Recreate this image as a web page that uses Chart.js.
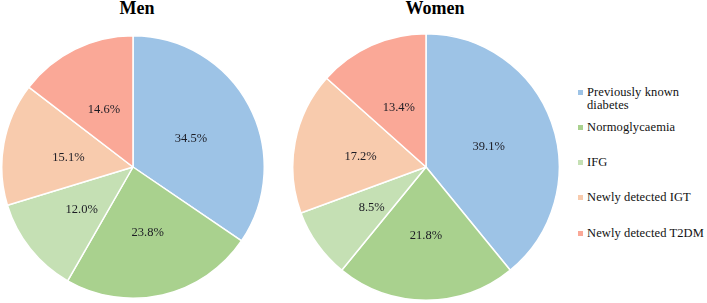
<!DOCTYPE html>
<html>
<head>
<meta charset="utf-8">
<script src="https://cdn.jsdelivr.net/npm/chart.js@4.4.1/dist/chart.umd.min.js"></script>
<style>
  html, body { margin: 0; padding: 0; background: #ffffff; }
  body { width: 707px; height: 303px; position: relative; overflow: hidden; font-family: "Liberation Serif", "Times New Roman", serif; }
  .title { position: absolute; top: -2px; font-weight: bold; font-size: 18px; color: #000; text-align: center; width: 200px; }
  .wrap { position: absolute; }
  #legend { position: absolute; left: 576px; top: 0; width: 131px; }
  .item { position: absolute; left: 0; width: 131px; font-size: 12.5px; line-height: 13px; color: #111; letter-spacing: 0.1px; }
  .swatch { position: absolute; left: 2px; top: 4px; width: 5px; height: 5px; }
  .txt { position: absolute; left: 11px; width: 120px; }
</style>
</head>
<body>
<div class="title" style="left:37px;">Men</div>
<div class="title" style="left:335px;">Women</div>
<div class="wrap" style="left:1px; top:35px; width:264px; height:264px;"><canvas id="men"></canvas></div>
<div class="wrap" style="left:292px; top:33px; width:268px; height:268px;"><canvas id="women"></canvas></div>
<div id="legend"></div>
<script>
const categories = ["Previously known diabetes", "Normoglycaemia", "IFG", "Newly detected IGT", "Newly detected T2DM"];
const menValues = [34.5, 23.8, 12.0, 15.1, 14.6];
const womenValues = [39.1, 21.8, 8.5, 17.2, 13.4];
const sliceColors = ["#9DC3E6", "#A9D18E", "#C5E0B4", "#F8CBAD", "#FAA897"];

const labelPlugin = {
  id: 'sliceLabels',
  afterDatasetsDraw(chart) {
    const ctx = chart.ctx;
    const meta = chart.getDatasetMeta(0);
    const data = chart.data.datasets[0].data;
    ctx.save();
    ctx.font = '12.5px "Liberation Serif", "Times New Roman", serif';
    ctx.fillStyle = '#1c1c24';
    ctx.textAlign = 'center';
    ctx.textBaseline = 'middle';
    meta.data.forEach((arc, i) => {
      const p = arc.getCenterPoint();
      ctx.fillText(data[i].toFixed(1) + '%', p.x, p.y + 2);
    });
    ctx.restore();
  }
};

function makePie(id, values) {
  return new Chart(document.getElementById(id), {
    type: 'pie',
    data: {
      labels: categories,
      datasets: [{
        data: values,
        backgroundColor: sliceColors,
        borderColor: '#ffffff',
        borderWidth: 1.5,
        hoverOffset: 0,
        offset: 0
      }]
    },
    options: {
      responsive: true,
      maintainAspectRatio: false,
      animation: false,
      layout: { padding: 0 },
      plugins: {
        legend: { display: false },
        tooltip: { enabled: false },
        title: { display: false }
      }
    },
    plugins: [labelPlugin]
  });
}

makePie('men', menValues);
makePie('women', womenValues);

const legend = document.getElementById('legend');
categories.forEach((c, i) => {
  const item = document.createElement('div');
  item.className = 'item';
  item.style.top = (85.5 + i * 35.3) + 'px';
  const sw = document.createElement('div');
  sw.className = 'swatch';
  sw.style.background = sliceColors[i];
  const t = document.createElement('div');
  t.className = 'txt';
  t.textContent = c;
  item.appendChild(sw);
  item.appendChild(t);
  legend.appendChild(item);
});
</script>
</body>
</html>
